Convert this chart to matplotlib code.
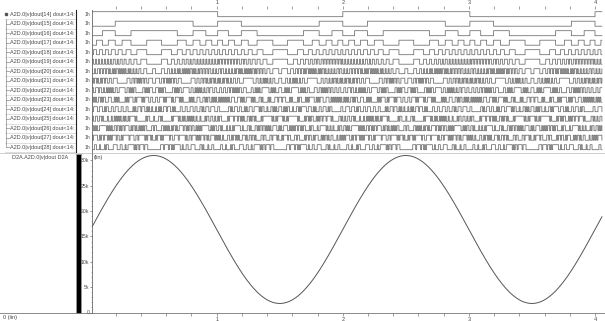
import numpy as np
import matplotlib.pyplot as plt
from matplotlib.patches import Rectangle
from matplotlib.ticker import FixedLocator

# D2A output code, 128 samples per time unit
dout_codes = [
    16384, 16742, 17100, 17458, 17815, 18171, 18526, 18880, 19232, 19583,
    19932, 20278, 20622, 20964, 21303, 21638, 21971, 22301, 22626, 22948,
    23266, 23580, 23890, 24195, 24495, 24791, 25081, 25366, 25646, 25920,
    26189, 26451, 26708, 26958, 27202, 27439, 27670, 27894, 28111, 28321,
    28523, 28719, 28907, 29087, 29260, 29425, 29582, 29731, 29873, 30006,
    30131, 30247, 30355, 30455, 30546, 30629, 30703, 30769, 30826, 30874,
    30914, 30944, 30966, 30980, 30984, 30980, 30966, 30944, 30914, 30874,
    30826, 30769, 30703, 30629, 30546, 30455, 30355, 30247, 30131, 30006,
    29873, 29731, 29582, 29425, 29260, 29087, 28907, 28719, 28523, 28321,
    28111, 27894, 27670, 27439, 27202, 26958, 26708, 26451, 26189, 25920,
    25646, 25366, 25081, 24791, 24495, 24195, 23890, 23580, 23266, 22948,
    22626, 22301, 21971, 21638, 21303, 20964, 20622, 20278, 19932, 19583,
    19232, 18880, 18526, 18171, 17815, 17458, 17100, 16742,
    16384, 16026, 15668, 15310, 14953, 14597, 14242, 13888, 13536, 13185,
    12836, 12490, 12146, 11804, 11465, 11130, 10797, 10467, 10142, 9820,
    9502, 9188, 8878, 8573, 8273, 7977, 7687, 7402, 7122, 6848,
    6579, 6317, 6060, 5810, 5566, 5329, 5098, 4874, 4657, 4447,
    4245, 4049, 3861, 3681, 3508, 3343, 3186, 3037, 2895, 2762,
    2637, 2521, 2413, 2313, 2222, 2139, 2065, 1999, 1942, 1894,
    1854, 1824, 1802, 1788, 1784, 1788, 1802, 1824, 1854, 1894,
    1942, 1999, 2065, 2139, 2222, 2313, 2413, 2521, 2637, 2762,
    2895, 3037, 3186, 3343, 3508, 3681, 3861, 4049, 4245, 4447,
    4657, 4874, 5098, 5329, 5566, 5810, 6060, 6317, 6579, 6848,
    7122, 7402, 7687, 7977, 8273, 8573, 8878, 9188, 9502, 9820,
    10142, 10467, 10797, 11130, 11465, 11804, 12146, 12490, 12836, 13185,
    13536, 13888, 14242, 14597, 14953, 15310, 15668, 16026,
    16384, 16742, 17100, 17458, 17815, 18171, 18526, 18880, 19232, 19583,
    19932, 20278, 20622, 20964, 21303, 21638, 21971, 22301, 22626, 22948,
    23266, 23580, 23890, 24195, 24495, 24791, 25081, 25366, 25646, 25920,
    26189, 26451, 26708, 26958, 27202, 27439, 27670, 27894, 28111, 28321,
    28523, 28719, 28907, 29087, 29260, 29425, 29582, 29731, 29873, 30006,
    30131, 30247, 30355, 30455, 30546, 30629, 30703, 30769, 30826, 30874,
    30914, 30944, 30966, 30980, 30984, 30980, 30966, 30944, 30914, 30874,
    30826, 30769, 30703, 30629, 30546, 30455, 30355, 30247, 30131, 30006,
    29873, 29731, 29582, 29425, 29260, 29087, 28907, 28719, 28523, 28321,
    28111, 27894, 27670, 27439, 27202, 26958, 26708, 26451, 26189, 25920,
    25646, 25366, 25081, 24791, 24495, 24195, 23890, 23580, 23266, 22948,
    22626, 22301, 21971, 21638, 21303, 20964, 20622, 20278, 19932, 19583,
    19232, 18880, 18526, 18171, 17815, 17458, 17100, 16742,
    16384, 16026, 15668, 15310, 14953, 14597, 14242, 13888, 13536, 13185,
    12836, 12490, 12146, 11804, 11465, 11130, 10797, 10467, 10142, 9820,
    9502, 9188, 8878, 8573, 8273, 7977, 7687, 7402, 7122, 6848,
    6579, 6317, 6060, 5810, 5566, 5329, 5098, 4874, 4657, 4447,
    4245, 4049, 3861, 3681, 3508, 3343, 3186, 3037, 2895, 2762,
    2637, 2521, 2413, 2313, 2222, 2139, 2065, 1999, 1942, 1894,
    1854, 1824, 1802, 1788, 1784, 1788, 1802, 1824, 1854, 1894,
    1942, 1999, 2065, 2139, 2222, 2313, 2413, 2521, 2637, 2762,
    2895, 3037, 3186, 3343, 3508, 3681, 3861, 4049, 4245, 4447,
    4657, 4874, 5098, 5329, 5566, 5810, 6060, 6317, 6579, 6848,
    7122, 7402, 7687, 7977, 8273, 8573, 8878, 9188, 9502, 9820,
    10142, 10467, 10797, 11130, 11465, 11804, 12146, 12490, 12836, 13185,
    13536, 13888, 14242, 14597, 14953, 15310, 15668, 16026,
    16384, 16742, 17100, 17458, 17815, 18171, 18526, 18880,
]
samples_per_unit = 128

bits = [14, 15, 16, 17, 18, 19, 20, 21, 22, 23, 24, 25, 26, 27, 28]
row_labels = ['A2D.0|v|dout[%d] dout<14:' % b for b in bits]
row_values = ['1h'] * len(bits)
analog_label = 'D2A.A2D.0|v|dout D2A'
y_ticks = [0, 5000, 10000, 15000, 20000, 25000, 30000]
y_ticklabels = ['0', '5k', '10k', '15k', '20k', '25k', '30k']
x_major = [1, 2, 3, 4]
x_minor = [0.2, 0.4, 0.6, 0.8, 1.2, 1.4, 1.6, 1.8, 2.2, 2.4, 2.6, 2.8,
           3.2, 3.4, 3.6, 3.8]

plt.rcParams['font.family'] = ['Liberation Sans', 'DejaVu Sans']

W, H = 605, 321
X0, PXU = 90.6, 126.1       # pixel of t=0, pixels per time unit
ROW_TOP, ROW_H = 9.5, 9.5
FS = 4.0
wave = '#6a6a6a'
txt = '#4a4a4a'
sep = '#d0d0d0'

codes = np.array(dout_codes)
t = np.arange(len(codes)) / samples_per_unit

fig = plt.figure(figsize=(W / 100, H / 100), dpi=100)


def px_axes(x0, y0, x1, y1):
    return fig.add_axes([x0 / W, 1 - y1 / H, (x1 - x0) / W, (y1 - y0) / H])


bg = px_axes(0, 0, W, H)
bg.set_xlim(0, W)
bg.set_ylim(H, 0)
bg.axis('off')

# --- digital rows ---
n = len(bits)
dig_bottom = ROW_TOP + ROW_H * n
axd = px_axes(92, ROW_TOP, W, dig_bottom)
axd.set_xlim((92 - X0) / PXU, (W - X0) / PXU)
axd.set_ylim(ROW_H * n, 0)
axd.axis('off')
for i, b in enumerate(bits):
    lvl = (codes >> (28 - b)) & 1
    axd.plot(t, ROW_H * i + 7.2 - 5 * lvl, drawstyle='steps-post', lw=0.55, color=wave)

# label panel
for i in range(n):
    yc = ROW_TOP + ROW_H * i + 4.6
    bg.text(10.5, yc, row_labels[i], fontsize=FS, color=txt, va='center')
    bg.plot([5, 76], [ROW_TOP + ROW_H * (i + 1)] * 2, color=sep, lw=0.5)
    if i == 0:
        bg.plot(6, yc, 's', ms=1.6, color='#555555')
    else:
        bg.plot([6, 8.5], [yc, yc], color='#888888', lw=0.5)
    bg.text(90.5, yc, row_values[i], fontsize=FS - 0.3, color=txt, va='center', ha='right')
bg.plot([6, 6], [ROW_TOP + ROW_H, ROW_TOP + ROW_H * (n - 1) + 4.6], color='#888888', lw=0.5)
bg.text(12, 157, analog_label, fontsize=FS, color=txt, va='center')

bg.plot([76, 76], [ROW_TOP, dig_bottom], color='#222222', lw=0.8)
bg.plot([92, 92], [ROW_TOP, dig_bottom], color='#666666', lw=0.6)
bg.plot([0, W], [dig_bottom + 0.5] * 2, color='#bbbbbb', lw=0.5)
bg.add_patch(Rectangle((76.3, 153.5), 4.5, 159, fc='black', ec='#999999', lw=0.6))

# --- analog trace ---
axa = px_axes(92, 153, W, 312.5)
axa.set_xlim((92 - X0) / PXU, (W - X0) / PXU)
axa.set_ylim(0, (312.5 - 153) / 5.067 * 1000)
axa.plot(t, codes, color='#555555', lw=0.7)
for s in ['top', 'right', 'bottom']:
    axa.spines[s].set_visible(False)
axa.spines['left'].set_color('#666666')
axa.spines['left'].set_linewidth(0.6)
axa.set_xticks([])
axa.set_yticks(y_ticks)
axa.set_yticklabels(y_ticklabels)
axa.yaxis.set_minor_locator(FixedLocator(list(range(1000, 31000, 1000))))
axa.tick_params(axis='y', which='major', labelsize=3.7, colors='#666666', labelcolor=txt,
                length=1.5, width=0.5, pad=0.5)
axa.tick_params(axis='y', which='minor', length=0.9, width=0.4, colors='#888888')
axa.patch.set_alpha(0)
bg.text(94, 157.5, '(lin)', fontsize=FS, color=txt, va='center')

# --- time rulers ---
for y0, where in [(ROW_TOP - 0.6, 'top'), (312.5, 'bottom')]:
    ax = px_axes(0, y0, W, y0 + 0.5)
    ax.set_xlim(-X0 / PXU, (W - X0) / PXU)
    ax.set_ylim(0, 1)
    ax.patch.set_alpha(0)
    for s in ax.spines.values():
        s.set_visible(False)
    ax.set_yticks([])
    ax.xaxis.set_major_locator(FixedLocator(x_major))
    ax.xaxis.set_minor_locator(FixedLocator(x_minor))
    ax.set_xticklabels([str(v) for v in x_major])
    if where == 'top':
        ax.xaxis.tick_top()
    ax.tick_params(axis='x', which='both', length=2, width=0.5, colors='#777777',
                   labelsize=FS, labelcolor=txt, pad=0.8)
bg.plot([0, W], [312.5, 312.5], color='#777777', lw=0.6)
bg.text(3, 318, '0 (lin)', fontsize=FS, color=txt, va='center')

fig.savefig('out.png', dpi=100)
